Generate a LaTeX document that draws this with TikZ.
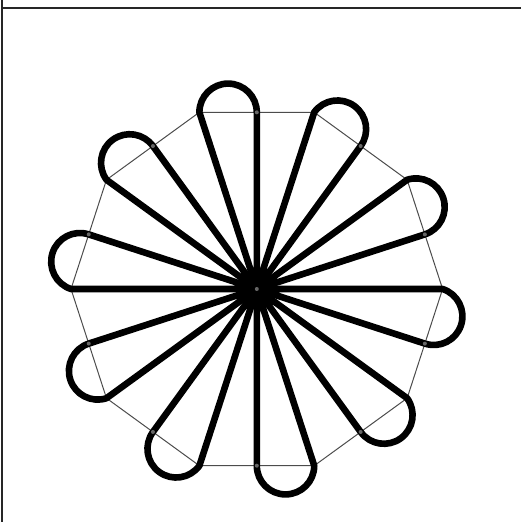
\documentclass[tikz,border=0pt]{standalone}
\begin{document}
\begin{tikzpicture}[x=1pt,y=1pt,
  petal/.style={draw=black, line width=6.6pt, line join=round},
  poly/.style={draw=black!70, line width=1pt},
  frame/.style={draw=black!85, line width=2pt},
  hub/.style={circle, fill=black, inner sep=0pt, minimum size=40pt},
  dot/.style={circle, fill=black!60, inner sep=0pt, minimum size=4pt}]
\useasboundingbox (0,0) rectangle (521,522);
\draw[frame] (2,522) -- (2,514) -- (521,514);
\draw[frame] (2,0) -- (2,514);
\begin{scope}[shift={(256.8,233)}]
  \coordinate (O) at (0,0);
  \foreach \i in {0,...,9}{
    \coordinate (v\i) at (36*\i:185.8);
    \coordinate (m\i) at (36*\i-18:176.7);
  }
  \draw[poly] (v0) -- (v1) -- (v2) -- (v3) -- (v4) -- (v5) -- (v6) -- (v7) -- (v8) -- (v9) -- cycle;
  \foreach \i in {0,...,9}{
    \draw[petal] (O) -- (v\i) arc[start angle=36*\i+72, delta angle=-180, radius=28.7] -- (m\i) -- cycle;
  }
  \node[hub] (hub) at (O) {};
  \foreach \i in {0,...,9}{
    \node[dot] (d\i) at (m\i) {};
  }
  \node[dot] (dc) at (O) {};
\end{scope}
\end{tikzpicture}
\end{document}
